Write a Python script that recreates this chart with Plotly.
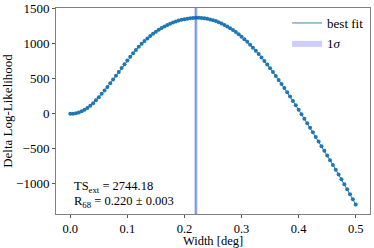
import plotly.graph_objects as go

# Profile likelihood scan: width [deg] vs delta log-likelihood
widths = [round(0.005 * i, 3) for i in range(101)]
delta_logl = [
    0, 2, 9, 20, 36, 58, 84, 114, 150, 192,
    237, 285, 333, 383, 435, 489, 543, 597, 652, 708,
    762, 814, 864, 912, 957, 999, 1039, 1076, 1111, 1143,
    1172, 1199, 1224, 1247, 1268, 1287, 1304, 1318, 1331, 1342,
    1351, 1358, 1364, 1368, 1372, 1371, 1368, 1363, 1356, 1347,
    1336, 1323, 1307, 1289, 1269, 1247, 1222, 1195, 1166, 1135,
    1101, 1065, 1027, 987, 944, 900, 853, 805, 755, 704,
    651, 597, 541, 484, 426, 367, 307, 246, 184, 121,
    58, -6, -70, -135, -200, -265, -330, -396, -462, -528,
    -595, -662, -729, -797, -865, -933, -1005, -1075, -1147, -1220,
    -1294,
]

best_fit = 0.220
sigma = 0.003
ts_ext = 2744.18

x_range = [-0.025, 0.525]
y_range = [-1430, 1510]
x_ticks = [0.0, 0.1, 0.2, 0.3, 0.4, 0.5]
x_ticklabels = ["0.0", "0.1", "0.2", "0.3", "0.4", "0.5"]
y_ticks = [-1000, -500, 0, 500, 1000, 1500]
y_ticklabels = ["\u22121000", "\u2212500", "0", "500", "1000", "1500"]

FONT = "Liberation Serif"

fig = go.Figure()

fig.add_trace(go.Scatter(
    x=widths, y=delta_logl, mode="lines+markers",
    line=dict(color="#1f77b4", width=1),
    marker=dict(color="#1f77b4", size=4),
    showlegend=False, hoverinfo="skip",
))

fig.add_trace(go.Scatter(
    x=[best_fit - sigma, best_fit + sigma, best_fit + sigma, best_fit - sigma, best_fit - sigma],
    y=[y_range[0], y_range[0], y_range[1], y_range[1], y_range[0]],
    mode="lines", fill="toself", fillcolor="rgba(0,0,255,0.2)",
    line=dict(width=0), name="1<i>σ</i>", legendrank=2,
))

fig.add_trace(go.Scatter(
    x=[best_fit, best_fit], y=y_range, mode="lines",
    line=dict(color="rgba(31,119,180,0.6)", width=1.5),
    name="best fit", legendrank=1,
))

fig.add_annotation(
    xref="paper", yref="paper", x=0.051, y=0.13, xanchor="left", yanchor="middle",
    text=f"TS<sub>ext</sub> = {ts_ext:.2f}", showarrow=False,
    font=dict(family=FONT, size=12.5, color="black"),
)
fig.add_annotation(
    xref="paper", yref="paper", x=0.051, y=0.056, xanchor="left", yanchor="middle",
    text=f"R<sub>68</sub> = {best_fit:.3f} ± {sigma:.3f}", showarrow=False,
    font=dict(family=FONT, size=12.5, color="black"),
)

axis_common = dict(
    showgrid=False, zeroline=False, showline=True, linecolor="#808080", linewidth=1,
    mirror=True, ticks="outside", ticklen=3, tickcolor="#555555",
    automargin=False,
)

fig.update_xaxes(
    range=x_range, tickvals=x_ticks, ticktext=x_ticklabels,
    tickfont=dict(family=FONT, size=12.5, color="black"),
    title=dict(text="Width [deg]", font=dict(family=FONT, size=12.5, color="black"), standoff=0),
    **axis_common,
)
fig.update_yaxes(
    range=y_range, tickvals=y_ticks, ticktext=y_ticklabels,
    tickfont=dict(family=FONT, size=13, color="black"),
    title=dict(text="Delta Log-Likelihood", font=dict(family=FONT, size=13, color="black"), standoff=0),
    **axis_common,
)

fig.update_layout(
    width=374, height=248,
    margin=dict(l=56, r=4, t=8, b=34),
    paper_bgcolor="white", plot_bgcolor="white",
    font=dict(family=FONT, size=13, color="black"),
    legend=dict(
        x=0.736, y=1.0, xanchor="left", yanchor="top",
        bgcolor="rgba(255,255,255,0)", borderwidth=0,
        font=dict(family=FONT, size=13, color="black"),
        itemwidth=30,
    ),
)

fig.write_html(
    "out.html",
    config={"displayModeBar": False},
    post_script="document.body.style.margin='0';",
)
